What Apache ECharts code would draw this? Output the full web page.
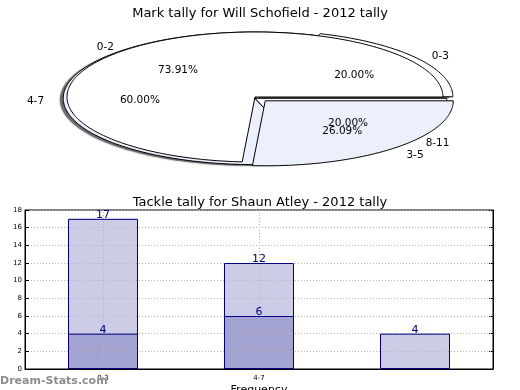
<!DOCTYPE html>
<html><head><meta charset="utf-8">
<script src="https://cdn.jsdelivr.net/npm/echarts@6/dist/echarts.min.js"></script>
<style>html,body{margin:0;padding:0;background:#fff}#c{width:520px;height:390px}</style>
</head><body><div id="c"></div>
<script>
// ---- data ----
const markCategories = ['0-2', '3-5'];
const markValues = [17, 6];
const markExplode = [0, 0.08];
const tackleCategories = ['0-3', '4-7', '8-11'];
const tackleValues = [4, 12, 4];
const tackleExplode = [0.04, 0, 0];
const barCategories = ['0-3', '4-7', '8-11'];
const xTickLabels = ['0-3', '4-7'];
const lightValues = [17, 12, 4];
const darkValues = [4, 6, null];
const gridLineCategories = ['0-3', '4-7'];

// ---- style / layout ----
const FONT = 'DejaVu Sans';
const pieAGeom = { cx: 0, cy: 0, r: 1 };
const pieBGeom = { cx: 0, cy: -0.02, r: 1.02 };
const markFills = ['#ffffff', '#ebf0fc'];
const tackleFills = ['#ffffff', '#ebf0fc', '#ffffff'];

function wedgeInfo(values, explode, geom, i) {
  const total = values.reduce((a, b) => a + b, 0);
  let start = 0;
  for (let j = 0; j < i; j++) start += values[j];
  const a1 = start / total * Math.PI * 2;
  const a2 = (start + values[i]) / total * Math.PI * 2;
  const mid = (a1 + a2) / 2;
  const ox = geom.cx + explode[i] * Math.cos(mid);
  const oy = geom.cy + explode[i] * Math.sin(mid);
  return { a1, a2, mid, ox, oy, total };
}

function wedgePoints(values, explode, geom, i, api, dx, dy) {
  const w = wedgeInfo(values, explode, geom, i);
  const pts = [api.coord([w.ox + dx, w.oy + dy])];
  const n = Math.max(2, Math.ceil((w.a2 - w.a1) / (Math.PI / 180)));
  for (let k = 0; k <= n; k++) {
    const t = w.a1 + (w.a2 - w.a1) * k / n;
    pts.push(api.coord([w.ox + dx + geom.r * Math.cos(t), w.oy + dy + geom.r * Math.sin(t)]));
  }
  return pts;
}

function wedgeRenderer(values, explode, fills, geom) {
  return function (params, api) {
    const i = params.dataIndex;
    return { type: 'polygon', shape: { points: wedgePoints(values, explode, geom, i, api, 0, 0) },
      style: { fill: fills[i], stroke: '#000', lineWidth: 1 } };
  };
}

function shadowRenderer(values, explode, geom) {
  return function (params, api) {
    const i = params.dataIndex;
    return { type: 'polygon', shape: { points: wedgePoints(values, explode, geom, i, api, -0.018, -0.02) },
      style: { fill: 'rgba(90,90,90,0.75)', shadowBlur: 2, shadowColor: 'rgba(0,0,0,0.5)' } };
  };
}

function labelRenderer(values, explode, cats, geom) {
  return function (params, api) {
    const i = params.dataIndex;
    const w = wedgeInfo(values, explode, geom, i);
    const c = Math.cos(w.mid), s = Math.sin(w.mid);
    const lp = api.coord([w.ox + 1.1 * geom.r * c, w.oy + 1.1 * geom.r * s]);
    const pp = api.coord([w.ox + 0.6 * geom.r * c, w.oy + 0.6 * geom.r * s]);
    const pct = (values[i] / w.total * 100).toFixed(2) + '%';
    return {
      type: 'group',
      children: [
        { type: 'text', x: lp[0], y: lp[1] + 2.5,
          style: { text: cats[i], fill: '#000', font: '10.5px ' + FONT,
                   align: c < 0 ? 'right' : 'left', verticalAlign: 'middle' } },
        { type: 'text', x: pp[0], y: pp[1] + 2,
          style: { text: pct, fill: '#000', font: '10.5px ' + FONT,
                   align: 'center', verticalAlign: 'middle' } }
      ]
    };
  };
}

const chart = echarts.init(document.getElementById('c'), null, { renderer: 'canvas' });
const tickFont = { fontFamily: FONT, fontSize: 7, color: '#000' };
const barLabel = { show: true, position: 'top', distance: -2, color: '#000080', fontFamily: FONT, fontSize: 11 };
const outline = { color: 'rgba(0,0,0,0)', borderColor: '#000080', borderWidth: 1 };

chart.setOption({
  animation: false,
  backgroundColor: '#fff',
  title: [
    { text: 'Mark tally for Will Schofield - 2012 tally', left: 'center', top: 2,
      textStyle: { fontFamily: FONT, fontSize: 13, fontWeight: 'normal', color: '#000' } },
    { text: 'Tackle tally for Shaun Atley - 2012 tally', left: 'center', top: 191,
      textStyle: { fontFamily: FONT, fontSize: 13, fontWeight: 'normal', color: '#000' } }
  ],
  grid: [
    { left: 67, top: 32, width: 376, height: 130, show: false, outerBoundsMode: 'none', containLabel: false },
    { left: 25, top: 210, right: 27, bottom: 21, show: true, borderColor: '#000', borderWidth: 1,
      backgroundColor: 'transparent', outerBoundsMode: 'none', containLabel: false }
  ],
  xAxis: [
    { gridIndex: 0, type: 'value', min: -1, max: 1, show: false },
    { gridIndex: 1, type: 'category', data: barCategories, z: 3,
      axisLine: { show: true, lineStyle: { color: '#000', width: 1 } },
      axisTick: { show: false },
      axisLabel: { ...tickFont, margin: 6, formatter: (v, i) => xTickLabels[i] || '' },
      splitLine: { show: false },
      name: 'Frequency', nameLocation: 'middle', nameGap: 16,
      nameTextStyle: { fontFamily: FONT, fontSize: 11, color: '#000' } }
  ],
  yAxis: [
    { gridIndex: 0, type: 'value', min: -1, max: 1, show: false },
    { gridIndex: 1, type: 'value', min: 0, max: 18, interval: 2, z: 3,
      axisLine: { show: true, lineStyle: { color: '#000', width: 1 } },
      axisTick: { show: true, inside: true, length: 4, lineStyle: { color: '#000' } },
      axisLabel: { ...tickFont, margin: 3 },
      splitLine: { show: true, lineStyle: { color: '#b4b4b4', width: 1, type: [1, 2] } },
      name: 'Stat Intervals', nameLocation: 'middle', nameGap: 14, nameRotate: 90,
      nameTextStyle: { fontFamily: FONT, fontSize: 11, color: '#000' } },
    { gridIndex: 1, type: 'value', min: 0, max: 18, interval: 2, position: 'right',
      axisLine: { show: true, lineStyle: { color: '#000' } },
      axisTick: { show: true, inside: true, length: 4, lineStyle: { color: '#000' } },
      axisLabel: { show: false }, splitLine: { show: false } }
  ],
  series: [
    { type: 'custom', name: 'tackleShadow', xAxisIndex: 0, yAxisIndex: 0, clip: false, silent: true, z: 1,
      renderItem: shadowRenderer(tackleValues, tackleExplode, pieBGeom),
      data: tackleValues.map((v, i) => [i, v]) },
    { type: 'custom', name: 'tackleWedges', xAxisIndex: 0, yAxisIndex: 0, clip: false, silent: true, z: 2,
      renderItem: wedgeRenderer(tackleValues, tackleExplode, tackleFills, pieBGeom),
      data: tackleValues.map((v, i) => [i, v]) },
    { type: 'custom', name: 'markWedges', xAxisIndex: 0, yAxisIndex: 0, clip: false, silent: true, z: 3,
      renderItem: wedgeRenderer(markValues, markExplode, markFills, pieAGeom),
      data: markValues.map((v, i) => [i, v]) },
    { type: 'custom', name: 'tackleLabels', xAxisIndex: 0, yAxisIndex: 0, clip: false, silent: true, z: 4,
      renderItem: labelRenderer(tackleValues, tackleExplode, tackleCategories, pieBGeom),
      data: tackleValues.map((v, i) => [i, v]) },
    { type: 'custom', name: 'markLabels', xAxisIndex: 0, yAxisIndex: 0, clip: false, silent: true, z: 4,
      renderItem: labelRenderer(markValues, markExplode, markCategories, pieAGeom),
      data: markValues.map((v, i) => [i, v]) },
    { type: 'bar', name: 'light', xAxisIndex: 1, yAxisIndex: 1, data: lightValues, barWidth: 70, barGap: '-100%',
      silent: true, z: 2,
      itemStyle: { color: '#ccccE6', borderWidth: 0 },
      markLine: { silent: true, symbol: 'none', z: 3, animation: false,
        label: { show: false },
        lineStyle: { color: '#b4b4b4', width: 1, type: [1, 2] },
        data: gridLineCategories.map(c => ({ xAxis: c })) } },
    { type: 'bar', name: 'dark', xAxisIndex: 1, yAxisIndex: 1, data: darkValues, barWidth: 70, barGap: '-100%',
      silent: true, z: 2,
      itemStyle: { color: '#a3a3d1', borderWidth: 0 } },
    { type: 'bar', name: 'lightEdge', xAxisIndex: 1, yAxisIndex: 1, data: lightValues, barWidth: 70, barGap: '-100%',
      silent: true, z: 5, itemStyle: outline, label: barLabel },
    { type: 'bar', name: 'darkEdge', xAxisIndex: 1, yAxisIndex: 1, data: darkValues, barWidth: 70, barGap: '-100%',
      silent: true, z: 5, itemStyle: outline, label: barLabel }
  ],
  graphic: [
    { type: 'text', left: 0, top: 376, z: 100, silent: true,
      style: { text: 'Dream-Stats.com', fill: '#8c8c8c', font: 'bold 11px ' + FONT } }
  ]
});
</script>
</body></html>
